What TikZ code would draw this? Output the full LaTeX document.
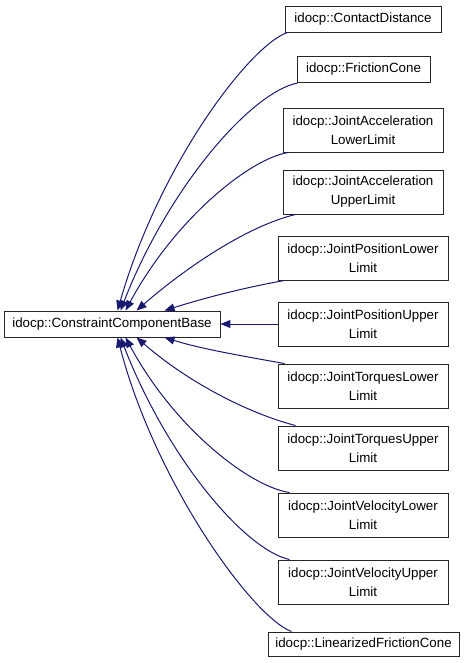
\documentclass[tikz,border=0pt]{standalone}
\usepackage{fontspec}
\setmainfont{Liberation Sans}
\usetikzlibrary{arrows.meta,calc}

\definecolor{edgeblue}{HTML}{191970}

\begin{document}
\begin{tikzpicture}[x=0.75pt,y=-0.75pt,>=Stealth]
\tikzset{
  cls/.style={draw=black!85,fill=white,line width=0.7pt,inner sep=0pt,align=center,
    font=\fontsize{10}{14.25}\selectfont},
  single/.style={minimum height=19.5pt},
  double/.style={minimum height=33pt},
  inh/.style={draw=edgeblue,line width=0.75pt,-{Triangle[length=7.5pt,width=6pt]}},
}
\useasboundingbox (0,0) rectangle (464,663);
\node[cls,single,minimum width=162pt] (base) at (112,324) {idocp::ConstraintComponentBase};
\node[cls,single,minimum width=117pt] (cdist) at (363,19) {idocp::ContactDistance};
\node[cls,single,minimum width=99.75pt] (fcone) at (363.5,69.5) {idocp::FrictionCone};
\node[cls,double,minimum width=120pt] (accl) at (363,130) {idocp::JointAcceleration\\LowerLimit};
\node[cls,double,minimum width=120pt] (accu) at (363,192) {idocp::JointAcceleration\\UpperLimit};
\node[cls,double,minimum width=127.5pt] (posl) at (363,258) {idocp::JointPositionLower\\Limit};
\node[cls,double,minimum width=127.5pt] (posu) at (363,324) {idocp::JointPositionUpper\\Limit};
\node[cls,double,minimum width=127.5pt] (torl) at (363,386) {idocp::JointTorquesLower\\Limit};
\node[cls,double,minimum width=127.5pt] (toru) at (363,448) {idocp::JointTorquesUpper\\Limit};
\node[cls,double,minimum width=127.5pt] (vell) at (363,515) {idocp::JointVelocityLower\\Limit};
\node[cls,double,minimum width=127.5pt] (velu) at (363,582) {idocp::JointVelocityUpper\\Limit};
\node[cls,minimum height=18pt,minimum width=143.25pt] (lfcone) at (363.5,644) {idocp::LinearizedFrictionCone};
% inheritance edges, tips at the base class
\draw[inh] ($(cdist.south west)+(3,0)$) .. controls +(-38,13) and +(42,-146) .. ($(base.north west)+(114,0)$);
\draw[inh] ($(fcone.south west)+(1,0)$) .. controls +(-48,10) and +(47,-121) .. ($(base.north west)+(117,0)$);
\draw[inh] ($(accl.south west)+(6,0)$) .. controls +(-39,6) and +(49,-91) .. ($(base.north west)+(122,0)$);
\draw[inh] ($(accu.south west)+(13,0)$) .. controls +(-46,11) and +(53,-46) .. ($(base.north west)+(133,0)$);
\draw[inh] ($(posl.south west)+(7,0)$) .. controls +(-45,8) and +(35,-11) .. ($(base.north west)+(161,0)$);
\draw[inh] (posu.west) -- (base.east);
\draw[inh] ($(torl.north west)+(7,0)$) .. controls +(-45,-8) and +(35,11) .. ($(base.south west)+(161,0)$);
\draw[inh] ($(toru.north west)+(18,0)$) .. controls +(-46,-12) and +(53,46) .. ($(base.south west)+(133,0)$);
\draw[inh] ($(vell.north west)+(12,0)$) .. controls +(-40,-6) and +(49,91) .. ($(base.south west)+(122,0)$);
\draw[inh] ($(velu.north west)+(12,0)$) .. controls +(-45,-10) and +(47,121) .. ($(base.south west)+(117,0)$);
\draw[inh] ($(lfcone.north west)+(24,0)$) .. controls +(-40,-15) and +(37,143) .. ($(base.south west)+(114,0)$);
\end{tikzpicture}
\end{document}
